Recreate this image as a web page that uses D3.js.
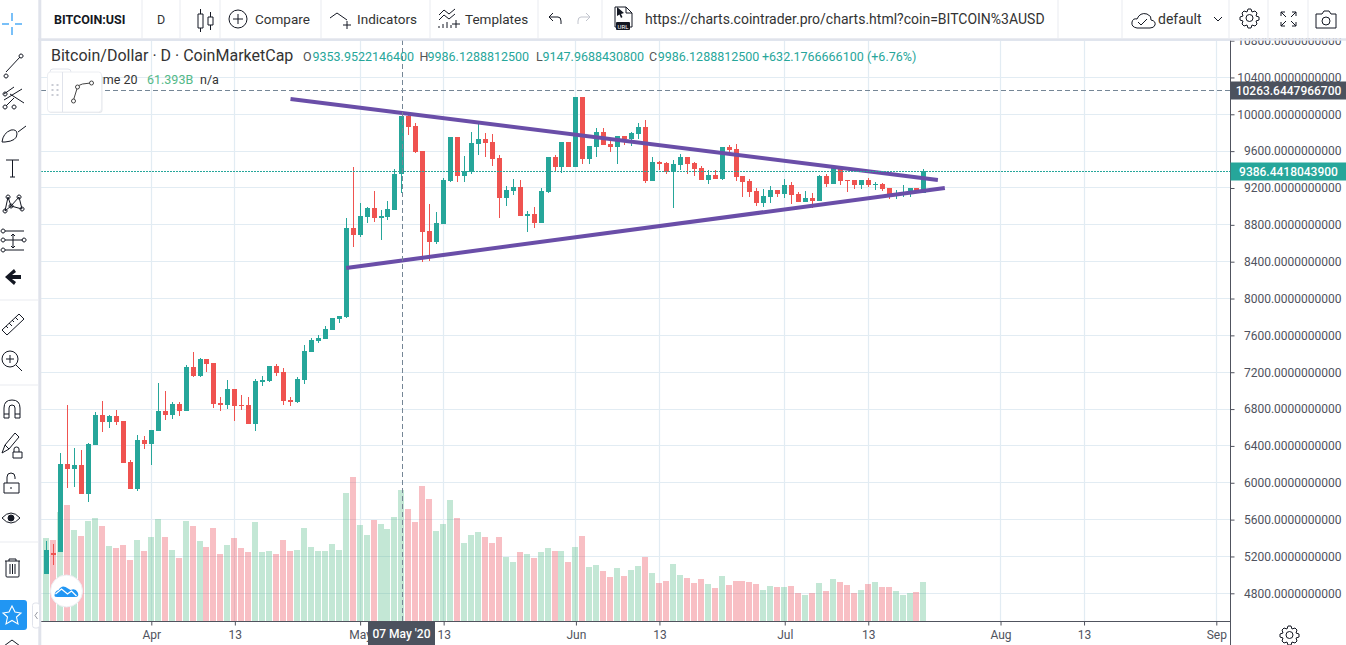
<!DOCTYPE html>
<html>
<head>
<meta charset="utf-8">
<title>Bitcoin/Dollar</title>
<script src="https://d3js.org/d3.v7.min.js"></script>
<style>
  html, body { margin: 0; padding: 0; background: #fff; overflow: hidden; }
  svg { display: block; }
  text { font-family: Roboto, "Noto Sans", sans-serif; }
</style>
</head>
<body>
<div id="chart"></div>
<script>
//-----------------------------DATA------------------------------//
const firstDay = "2020-03-17";
const lastDay = "2020-07-21";

const opens = [5010,5238,5248,6204,6150,6193,5878,6410,6736,6660,6725,6671,6225,5932,6464,6421,6562,6779,6736,6855,
  6779,7257,7159,7344,7300,6866,6844,7018,6844,6844,6638,7094,7105,7268,7203,6898,6877,7116,7420,7539,
  7561,7659,7778,7800,8766,8690,8885,8983,8874,8885,8961,9353.95,9982,9873,9602,8733,8614,8809,9276,9754,
  9330,9374,9678,9732,9699,9526,9092,9168,9211,8896,8918,8820,9157,9537,9428,9699,9428,10188,9515,9645,
  9808,9678,9645,9765,9732,9786,9862,9276,9482,9471,9385,9450,9537,9471,9417,9287,9341,9298,9645,9623,
  9330,9276,9168,9037,9102,9178,9135,9233,9135,9048,9092,9059,9330,9243,9428,9287,9287,9233,9287,9233,
  9243,9200,9135,9135,9146,9200,9146];
const highs = [5368,5335,6323,6844,6377,6356,6432,6768,6888,6736,6790,6671,6247,6519,6508,6573,7083,6996,6877,6877,
  7279,7420,7355,7344,7300,6931,7116,7018,6953,6931,7127,7159,7268,7289,7246,6931,7148,7496,7572,7604,
  7702,7789,7810,8874,9428,9037,8994,9168,8961,9059,9406,9986.13,9993,9906,9602,9026,8940,9309,9754,9754,
  9547,9808,9906,9797,9786,9558,9222,9298,9287,8950,8994,9200,9537,9558,9699,9699,10188,10188,9656,9851,
  9851,9732,9765,9765,9808,9906,9938,9537,9493,9482,9504,9569,9537,9482,9439,9396,9396,9645,9667,9678,
  9330,9298,9200,9189,9222,9178,9298,9265,9157,9168,9146,9341,9352,9450,9428,9287,9287,9287,9309,9265,
  9254,9200,9178,9233,9200,9200,9406];
const lows = [5010,5107,5248,5943,5954,5878,5791,6410,6551,6595,6627,6215,5932,5911,6367,6193,6562,6681,6692,6725,
  6779,7148,7148,7203,6812,6779,6801,6671,6790,6638,6562,7051,7094,7159,6844,6833,6866,7072,7420,7517,
  7561,7659,7735,7789,8560,8668,8820,8831,8636,8853,8961,9147.97,9775,9580,8397,8408,8592,8809,9265,9265,
  9265,9352,9558,9537,9439,8874,9005,9124,8896,8722,8766,8820,9146,9374,9363,9428,9428,9461,9461,9537,
  9667,9591,9461,9667,9656,9732,9254,9276,9396,9352,8983,9396,9352,9330,9287,9243,9298,9287,9569,9276,
  9102,9102,9005,8994,9037,9102,9092,9026,9048,9048,8983,9059,9211,9243,9233,9157,9189,9189,9211,9178,
  9168,9081,9081,9102,9102,9146,9146];
const closes = [5270,5216,6204,6150,6193,5878,6421,6736,6660,6725,6660,6215,5932,6464,6421,6573,6779,6736,6855,6779,
  7257,7159,7344,7289,6855,6844,7018,6833,6833,6638,7105,7116,7268,7192,6888,6877,7127,7431,7550,7572,
  7669,7789,7810,8766,8690,8896,8983,8874,8896,8972,9352,9986.13,9862,9591,8722,8614,8820,9287,9754,9330,
  9385,9689,9732,9689,9515,9092,9178,9211,8896,8918,8820,9168,9537,9428,9699,9428,10188,9515,9656,9808,
  9667,9645,9765,9732,9797,9862,9276,9482,9461,9374,9461,9537,9461,9406,9287,9341,9298,9645,9613,9319,
  9265,9157,9037,9113,9178,9135,9233,9124,9048,9092,9059,9330,9243,9428,9276,9276,9233,9287,9233,9243,
  9189,9135,9146,9157,9200,9146,9386.44];
// volume in billions
const volumes = [38.9,38,51.1,54.4,42.7,39.9,46.9,48.3,44.6,35.2,34.3,35.7,28.7,38,32.9,39.4,47.8,39.4,33.3,29.6,
  46.9,44.6,37.5,34.7,43.6,31.5,35.7,39,34.3,32.4,46.4,32.4,32.9,31.5,38,32.9,33.3,43.6,34.7,32.9,
  32.9,36.1,33.3,60,67.5,45,40.4,47.4,45.5,43.2,48.8,61.393,52.5,46.4,63.3,57.2,42.2,45.5,56.7,48.3,
  36.6,40.4,41.8,39.4,36.6,39.4,30.1,27.7,32.4,31.5,29.6,32.4,34.3,32.9,32.9,27.7,34.7,39.9,25.4,26.3,
  23.5,20.7,24.9,21.2,24,25.9,30.1,22.6,17.9,18.9,26.8,21.7,20.3,17.9,19.8,17.4,15.6,21.2,17,18.9,
  18.9,18.4,17.4,14.6,16.5,16,16,16.5,13.2,12.3,13.2,17.9,14.2,19.8,18.4,17,13.2,14.6,17.4,18.4,
  16,16,14.2,12.3,13.2,13.7,18.4];

const priceTicks = [4800,5200,5600,6000,6400,6800,7200,7600,8000,8400,8800,9200,9600,10000,10400,10800];
const timeTicks = ["2020-04-01","2020-04-13","2020-05-01","2020-05-13","2020-06-01","2020-06-13","2020-07-01","2020-07-13","2020-08-01","2020-08-13","2020-09-01"];
const timeLabels = ["Apr","13","May","13","Jun","13","Jul","13","Aug","13","Sep"];

// the two hand drawn lines of the triangle
const upperDates = ["2020-04-21","2020-07-23"];
const upperPrices = [10166,9287];
const lowerDates = ["2020-04-29","2020-07-24"];
const lowerPrices = [8332,9200];

const crossDate = "2020-05-07";
const crossPrice = 10263.6447966700;
const lastPrice = 9386.4418043900;

const parseDay = d3.utcParse("%Y-%m-%d");
const days = d3.utcDay.range(parseDay(firstDay), d3.utcDay.offset(parseDay(lastDay), 1));

const width = 1346;
const height = 645;
const axisX = 1230.5;
const paneLeft = 41;
const paneTop = 40;
const paneBottom = 621.5;

const green = "#26a69a";
const red = "#ef5350";
const gridColor = "#e2ecf3";
const darkBox = "#4c525e";
const inkColor = "#131722";

const svg = d3.select("#chart").append("svg")
  .attr("width", width)
  .attr("height", height)
  .attr("viewBox", "0 0 " + width + " " + height);

//----------------------------SCALES-----------------------------//
const xScale = d3.scaleUtc()
  .domain([parseDay("2020-04-01"), parseDay("2020-09-01")])
  .range([151.3, 1216.3]);
const yScale = d3.scaleLinear().domain([4800, 10800]).range([593.3, 40.6]);
const volScale = d3.scaleLinear().domain([0, 61.393]).range([621.3, 490]);

// keep thin marks on whole pixels
function crisp(v) {
  return Math.floor(v) + 0.5;
}

//-----------------------------GRID------------------------------//
const tickDates = timeTicks.map(parseDay);
svg.append("g").selectAll("line").data(tickDates).enter().append("line")
  .attr("x1", function (d) { return crisp(xScale(d)); })
  .attr("x2", function (d) { return crisp(xScale(d)); })
  .attr("y1", paneTop).attr("y2", paneBottom)
  .attr("stroke", gridColor).attr("stroke-width", 1.2);
svg.append("g").selectAll("line").data(priceTicks).enter().append("line")
  .attr("x1", paneLeft).attr("x2", axisX)
  .attr("y1", function (d) { return crisp(yScale(d)); })
  .attr("y2", function (d) { return crisp(yScale(d)); })
  .attr("stroke", gridColor).attr("stroke-width", 1.2);

//----------------------------VOLUME-----------------------------//
svg.append("g").selectAll("rect").data(days).enter().append("rect")
  .attr("x", function (d) { return Math.floor(xScale(d)) - 3; })
  .attr("width", 6)
  .attr("y", function (d, i) { return Math.round(volScale(volumes[i])); })
  .attr("height", function (d, i) { return 621 - Math.round(volScale(volumes[i])); })
  .attr("fill", function (d, i) {
    return closes[i] >= opens[i] ? "rgba(83,185,135,0.35)" : "rgba(235,77,92,0.36)";
  });

//---------------------------CANDLES-----------------------------//
const candles = svg.append("g").selectAll("g").data(days).enter().append("g");
candles.append("line")
  .attr("x1", function (d) { return crisp(xScale(d)); })
  .attr("x2", function (d) { return crisp(xScale(d)); })
  .attr("y1", function (d, i) { return Math.round(yScale(highs[i])); })
  .attr("y2", function (d, i) { return Math.round(yScale(lows[i])); })
  .attr("stroke-width", 1)
  .attr("stroke", function (d, i) { return closes[i] >= opens[i] ? green : red; });
candles.append("rect")
  .attr("x", function (d) { return Math.floor(xScale(d)) - 2; })
  .attr("width", 5)
  .attr("y", function (d, i) { return Math.round(yScale(Math.max(opens[i], closes[i]))); })
  .attr("height", function (d, i) {
    const top = Math.round(yScale(Math.max(opens[i], closes[i])));
    return Math.max(1, Math.round(yScale(Math.min(opens[i], closes[i]))) - top);
  })
  .attr("fill", function (d, i) { return closes[i] >= opens[i] ? green : red; });

//---------------------------TRENDLINES--------------------------//
const trendLine = d3.line()
  .x(function (d) { return xScale(parseDay(d[0])); })
  .y(function (d) { return yScale(d[1]); });
[d3.zip(upperDates, upperPrices), d3.zip(lowerDates, lowerPrices)].forEach(function (pts) {
  svg.append("path")
    .attr("d", trendLine(pts))
    .attr("fill", "none")
    .attr("stroke", "#6a4ea8")
    .attr("stroke-width", 4);
});

//-----------------------PRICE LINE, CROSSHAIR-------------------//
const lastY = Math.round(yScale(lastPrice)) + 0.5;
const crossY = Math.round(yScale(crossPrice)) + 0.5;
const crossX = Math.round(xScale(parseDay(crossDate))) + 0.5;
svg.append("line")
  .attr("x1", paneLeft).attr("x2", axisX)
  .attr("y1", lastY).attr("y2", lastY)
  .attr("stroke", green).attr("stroke-width", 1).attr("stroke-dasharray", "2,1");
svg.append("line")
  .attr("x1", paneLeft).attr("x2", axisX)
  .attr("y1", crossY).attr("y2", crossY)
  .attr("stroke", "#758696").attr("stroke-width", 1).attr("stroke-dasharray", "5,3");
svg.append("line")
  .attr("x1", crossX).attr("x2", crossX)
  .attr("y1", paneTop).attr("y2", paneBottom)
  .attr("stroke", "#758696").attr("stroke-width", 1).attr("stroke-dasharray", "5,3");

//-----------------------------AXES------------------------------//
const yaxis = d3.axisRight(yScale)
  .tickValues(priceTicks)
  .tickSize(4)
  .tickFormat(function (d) { return d.toFixed(10); });
const yG = svg.append("g")
  .attr("transform", "translate(" + axisX + ",0)")
  .call(yaxis);
yG.select(".domain").remove();
yG.selectAll("line").attr("stroke", "#50535e");
yG.selectAll("text")
  .attr("x", 111)
  .style("text-anchor", "end")
  .style("font-family", "Roboto, sans-serif")
  .style("font-size", "12px")
  .style("fill", "#50535e");

const xaxis = d3.axisBottom(xScale)
  .tickValues(tickDates)
  .tickSize(4)
  .tickFormat(function (d, i) { return timeLabels[i]; });
const xG = svg.append("g")
  .attr("transform", "translate(0," + paneBottom + ")")
  .call(xaxis);
xG.select(".domain").remove();
xG.selectAll("line").attr("stroke", "#50535e");
xG.selectAll("text")
  .attr("y", 9)
  .style("font-family", "Roboto, sans-serif")
  .style("font-size", "12px")
  .style("fill", "#50535e");

svg.append("line").attr("x1", paneLeft).attr("x2", axisX)
  .attr("y1", paneBottom).attr("y2", paneBottom)
  .attr("stroke", "#50535e").attr("stroke-width", 1);
svg.append("line").attr("x1", axisX).attr("x2", axisX)
  .attr("y1", paneTop).attr("y2", height)
  .attr("stroke", "#50535e").attr("stroke-width", 1);

// axis labels on top of the marks
function axisBox(x, y, w, h, fill, label, size) {
  svg.append("rect").attr("x", x).attr("y", y).attr("width", w).attr("height", h).attr("fill", fill);
  svg.append("text").attr("x", x + w / 2).attr("y", y + h / 2 + 4)
    .attr("text-anchor", "middle").attr("fill", "#fff")
    .style("font-size", size).style("font-weight", 500).text(label);
}
axisBox(axisX, crossY - 9, 116, 18, darkBox, crossPrice.toFixed(10), "12px");
axisBox(axisX, lastY - 9, 116, 18, green, lastPrice.toFixed(10), "12px");
axisBox(368, paneBottom, 67, 24, darkBox, "07 May '20", "12px");

//---------------------------LEGEND------------------------------//
function put(x, y, str, color, size, weight) {
  return svg.append("text").attr("x", x).attr("y", y)
    .attr("fill", color).style("font-size", size + "px")
    .style("font-weight", weight || 400).text(str);
}
put(51, 61, "Bitcoin/Dollar \u00b7 D \u00b7 CoinMarketCap", "#333", 16);
[[303, "O", "9353.9522146400", 9.5], [419.5, "H", "9986.1288812500", 8],
 [536, "L", "9147.9688430800", 6.5], [649, "C", "9986.1288812500", 8.7]].forEach(function (o) {
  put(o[0], 61, o[1], "#555", 12.5);
  put(o[0] + o[3], 61, o[2], green, 12.5);
});
put(762, 61, "+632.1766666100", green, 12.5);
put(867, 61, "(+6.76%)", green, 12.5);
put(78, 84, "Volume 20", "#333", 12.5);
put(147, 84, "61.393B", "#53b987", 12.5);
put(200, 84, "n/a", "#333", 12.5);

// floating drawing toolbar
svg.append("rect").attr("x", 50).attr("y", 69).attr("width", 21).attr("height", 8).attr("rx", 3)
  .attr("fill", "#fff").attr("stroke", "#e0e3eb");
const floatBox = svg.append("g").attr("transform", "translate(47.5,72)");
floatBox.append("rect").attr("x", 1).attr("y", 2).attr("width", 54).attr("height", 39).attr("rx", 3).attr("fill", "#d6d9e0").attr("opacity", 0.6);
floatBox.append("rect").attr("width", 54).attr("height", 40).attr("rx", 3).attr("fill", "#fff").attr("stroke", "#eceef2");
floatBox.append("line").attr("x1", 15).attr("x2", 15).attr("y1", 0).attr("y2", 40).attr("stroke", "#e0e3eb");
[[5, 13], [10, 13], [5, 18], [10, 18], [5, 23], [10, 23]].forEach(function (p) {
  floatBox.append("rect").attr("x", p[0] - 1).attr("y", p[1] - 1).attr("width", 2).attr("height", 2).attr("fill", "#c9ccd4");
});
floatBox.append("path").attr("d", "M26 28L30 15Q31 13 35 12L43 11").attr("fill", "none").attr("stroke", "#444");
[[26, 29], [30, 15], [44, 11]].forEach(function (p) {
  floatBox.append("circle").attr("cx", p[0]).attr("cy", p[1]).attr("r", 2).attr("fill", "#fff").attr("stroke", "#444");
});

// cloud logo
const logo = svg.append("g").attr("transform", "translate(66.5,591)");
logo.append("circle").attr("r", 16).attr("fill", "#fff").attr("stroke", "#eceef2");
logo.append("path").attr("d", "M-12 5Q-12 0 -8 -1Q-5 -6 -1 -4L4 -1Q9 -3 11 1Q13 5 10 6L-9 6Q-12 6 -12 5Z").attr("fill", "#2196f3");
logo.append("path").attr("d", "M-11 3L-5 -2L1 3L5 0L10 5").attr("fill", "none").attr("stroke", "#fff").attr("stroke-width", 1.3);

//--------------------------TOOLBARS-----------------------------//
svg.append("rect").attr("width", width).attr("height", 38.3).attr("fill", "#fff");
svg.append("rect").attr("y", 38.3).attr("width", width).attr("height", 2.4).attr("fill", "#e0e3eb");
svg.append("rect").attr("width", 38.3).attr("height", height).attr("fill", "#fff");
svg.append("rect").attr("x", 38.3).attr("y", 0).attr("width", 3).attr("height", height).attr("fill", "#e0e3eb");

[142, 180, 220, 321, 430, 538, 602, 1058, 1122, 1229, 1268, 1308].forEach(function (x) {
  svg.append("line").attr("x1", x).attr("x2", x).attr("y1", 0).attr("y2", 38)
    .attr("stroke", "#e9ebf0");
});
[300, 385, 542].forEach(function (y) {
  svg.append("line").attr("x1", 0).attr("x2", 38).attr("y1", y).attr("y2", y).attr("stroke", "#e9ebf0");
});

put(54, 24, "BITCOIN:USI", inkColor, 12.5, 700);
put(157, 24, "D", "#333", 12.5);
put(255, 24, "Compare", "#333", 13.5);
put(357, 24, "Indicators", "#333", 13.5);
put(465, 24, "Templates", "#333", 13.5);
put(645, 24, "https://charts.cointrader.pro/charts.html?coin=BITCOIN%3AUSD", "#333", 14);
put(1158, 24, "default", "#333", 14);

// icons: [x, y, path] with a plain outline
const gear = "M10 1h3l1 3l3 -1l2 2l-1 3l3 1v3l-3 1l1 3l-2 2l-3 -1l-1 3h-3l-1 -3l-3 1l-2 -2l1 -3l-3 -1v-3l3 -1l-1 -3l2 -2l3 1zM8 10a3.500 3.500 0 1 0 7 0a3.500 3.500 0 1 0 -7 0";
const icons = [
  // top bar
  [196, 8, "M2 6h5v14H2zM4.500 1v5M4.500 20v4M12 9h5v8h-5zM14.500 4v5M14.500 17v5"],
  [229, 10, "M0 9a9 9 0 1 0 18 0a9 9 0 1 0 -18 0M9 4v10M4 9h10"],
  [330, 9, "M0 9L7 4L17 11M13 16h8M17 12v8"],
  [439, 8, "M0 7L5 2L10 6L16 1M0 12L5 7L10 11L16 6M0 20v-2M4 20v-4M8 20v-6M12 20v-3M13 16h8M17 12v8"],
  [548, 12, "M1 5L5 1M1 5L5 9M1 5h9q3 0 3 4v3"],
  [612, 6, "M3 1h11l6 6v14H3zM14 1v6h6"],
  [1131, 11, "M6 17q-6 -1 -5 -6q1 -4 5 -3q3 -7 10 -5q5 2 4 6q5 1 4 5q-1 3 -5 3zM7 11l3 3l6 -6"],
  [1214, 17, "M0 0l4 4l4 -4"],
  [1238, 8, gear],
  [1281, 12, "M0 0h4M0 0v4M0 0l5 5M15 0h-4M15 0v4M15 0l-5 5M0 14h4M0 14v-4M0 14l5 -5M15 14h-4M15 14v-4M15 14l-5 -5"],
  [1316, 10, "M0 4h6l2 -3h5l2 3h5v14H0zM6 11a4 4 0 1 0 8 0a4 4 0 1 0 -8 0"],
  [1278, 625, gear],
  // left bar
  [3, 53, "M3 19L17 4M3 21a2 2 0 1 0 .1 0M18 1a2 2 0 1 0 .1 0"],
  [2, 86, "M2 8L12 1M2 14L20 3M4 20L12 12M8 8L22 17M3 6a2 2 0 1 0 .1 0M3 19a2 2 0 1 0 .1 0M12 19a2 2 0 1 0 .1 0"],
  [2, 124, "M0 18Q1 9 9 6Q15 5 15 10Q15 17 3 18ZM16 8L24 2"],
  [6, 159, "M0 1h13M6.500 1v17M4 18h5"],
  [3, 194, "M2 17L5 3M5 3L8 12M8 12L16 3M16 3L19 15M2 17L8 12M8 12L19 15M5 1a2 2 0 1 0 .1 0M16 1a2 2 0 1 0 .1 0M8 10a2 2 0 1 0 .1 0M2 15a2 2 0 1 0 .1 0M19 13a2 2 0 1 0 .1 0"],
  [1, 229, "M4 2h19M4 11h18M4 21h19M12 5v14M10 7l2 -2l2 2M10 17l2 2l2 -2M2 0a2 2 0 1 0 .1 0M2 9a2 2 0 1 0 .1 0M2 19a2 2 0 1 0 .1 0M23 9a2 2 0 1 0 .1 0"],
  [1, 313, "M1 17L18 1L23 6L6 22ZM5 13l2 2M8 10l3 3M11 7l2 2M14 4l3 3"],
  [2, 350, "M0 9a8 8 0 1 0 16 0a8 8 0 1 0 -16 0M14 15l6 6M8 5v8M4 9h8"],
  [4, 399, "M0 19v-10q0 -8 8 -8q8 0 8 8v10h-5v-10q0 -3 -3 -3q-3 0 -3 3v10zM0 15h5M11 15h5"],
  [1, 432, "M1 21L4 13L14 1L18 5L8 17ZM4 13l4 4M13 20v-3q0 -2 2.500 -2q2.500 0 2.500 2v3M12 20h9v6h-9z"],
  [4, 472, "M0 11h15v10H0zM3 11V5q0 -4 4 -4q4 0 4 4v2M7 15v2"],
  [2, 510, "M0 8Q9 -2 18 8Q9 18 0 8ZM6 8a3 3 0 1 0 6 0a3 3 0 1 0 -6 0"],
  [5, 558, "M0 3h15M4 3V1h7v2M1 3v15q0 1 1 1h11q1 0 1 -1V3M5 6v10M7.500 6v10M10 6v10"],
  [4, 640, "M0 6L8 0L16 6"]
];
svg.append("g").selectAll("path").data(icons).enter().append("path")
  .attr("transform", function (d) { return "translate(" + d[0] + "," + d[1] + ")"; })
  .attr("d", function (d) { return d[2]; })
  .attr("fill", "none")
  .attr("stroke", inkColor)
  .attr("stroke-width", 1);

// redo is greyed out
svg.append("path").attr("transform", "translate(577,12)")
  .attr("d", "M13 5L9 1M13 5L9 9M13 5h-9q-3 0 -3 4v3")
  .attr("fill", "none").attr("stroke", "#c1c4cd");

// filled bits
svg.append("path").attr("transform", "translate(3,268)")
  .attr("d", "M2 9L11 1L13 4L9 7H18V11H9L13 14L11 17Z").attr("fill", inkColor);
svg.append("path").attr("transform", "translate(617,7)")
  .attr("d", "M0 0L7 6L4 7L5.500 10L4 11L2.500 7.500L0 9Z").attr("fill", inkColor);
svg.append("rect").attr("x", 616).attr("y", 22).attr("width", 14).attr("height", 8).attr("rx", 1).attr("fill", inkColor);
svg.append("text").attr("x", 623).attr("y", 29).attr("text-anchor", "middle").attr("fill", "#fff").style("font-size", "6px").text("URL");
svg.append("circle").attr("cx", 11).attr("cy", 518).attr("r", 3).attr("fill", inkColor);

// crosshair tool, selected
[[2, 24, 9, 24], [15, 24, 22, 24], [12, 13, 12, 21], [12, 27, 12, 35]].forEach(function (c) {
  svg.append("line").attr("x1", c[0]).attr("y1", c[1]).attr("x2", c[2]).attr("y2", c[3])
    .attr("stroke", "#2196f3").attr("stroke-width", 1.2);
});

// favourites star
svg.append("path").attr("d", "M0 600H24Q27 600 27 603V627Q27 630 24 630H0Z").attr("fill", "#2196f3");
svg.append("path").attr("d", "M12 606L15 612L21 613L16.500 617L18 624L12 620.500L6 624L7.500 617L3 613L9 612Z")
  .attr("fill", "none").attr("stroke", "#fff").attr("stroke-width", 1.1);

// collapse handle
svg.append("rect").attr("x", 32.500).attr("y", 603).attr("width", 7).attr("height", 25).attr("rx", 2.500)
  .attr("fill", "#fff").attr("stroke", "#e0e3eb");
svg.append("path").attr("d", "M37.500 612L35 615.500L37.500 619").attr("fill", "none").attr("stroke", "#9598a1");
</script>
</body>
</html>
